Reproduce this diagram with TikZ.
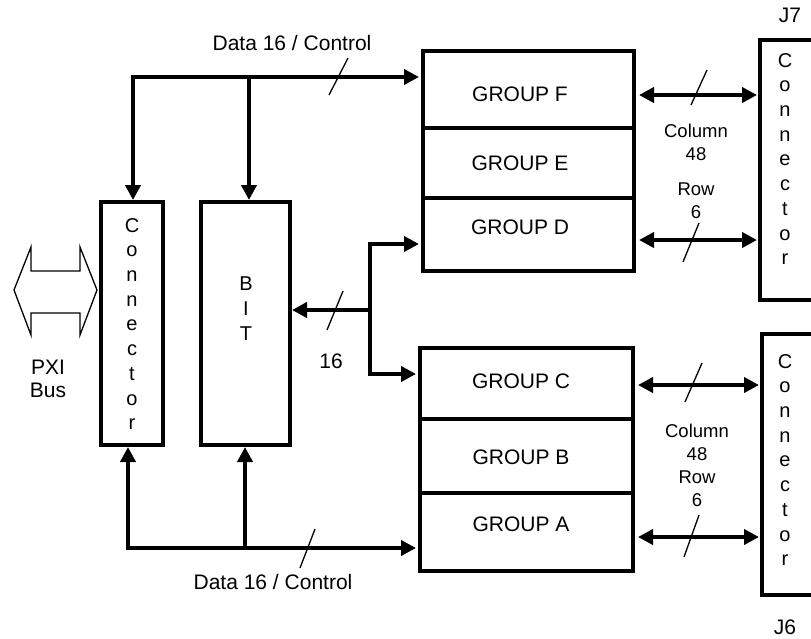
\documentclass[tikz,border=0pt]{standalone}
\usepackage{fontspec}
\setmainfont{Liberation Sans}
\usetikzlibrary{arrows.meta}
\newcommand{\connword}{C\\o\\n\\n\\e\\c\\t\\o\\r}

\begin{document}
\begin{tikzpicture}[x=1pt,y=-1pt,
  box/.style={draw, line width=4pt, inner sep=0pt},
  bus/.style={line width=4pt, line join=miter, >={Triangle[length=15pt,width=15pt]}},
  tick/.style={line width=1.3pt},
  txt/.style={font=\fontsize{21}{23}\selectfont, align=center, inner sep=0pt},
  small/.style={font=\fontsize{18.5}{23}\selectfont, align=center, inner sep=0pt},
  letters/.style={font=\fontsize{20}{24.7}\selectfont, align=center, inner sep=0pt}]
  \useasboundingbox (0,0) rectangle (811,638);

  \node[box, minimum width=62pt, minimum height=243pt] (connL) at (132,323.5) {};
  \node[letters] (connLtxt) at (132,324) {\connword};
  \node[box, minimum width=89pt, minimum height=243pt] (bit) at (245.5,323.5) {};
  \node[letters] (bittxt) at (246,308.5) {B\\I\\T};

  \node[box, minimum width=211pt, minimum height=77pt] (grpF) at (528.5,89.5) {};
  \node[box, minimum width=211pt, minimum height=70pt] (grpE) at (528.5,163) {};
  \node[box, minimum width=211pt, minimum height=73pt] (grpD) at (528.5,234.5) {};
  \node[box, minimum width=213pt, minimum height=71pt] (grpC) at (526.5,383.5) {};
  \node[box, minimum width=213pt, minimum height=74pt] (grpB) at (526.5,456) {};
  \node[box, minimum width=213pt, minimum height=78pt] (grpA) at (526.5,532) {};
  \node[txt] (lblF) at (520,94) {GROUP F};
  \node[txt] (lblE) at (520,163) {GROUP E};
  \node[txt] (lblD) at (520,227) {GROUP D};
  \node[txt] (lblC) at (521,381) {GROUP C};
  \node[txt] (lblB) at (521,457) {GROUP B};
  \node[txt] (lblA) at (521,524) {GROUP A};

  \node[box, minimum width=53pt, minimum height=260pt] (connJ7) at (786.5,170) {};
  \node[letters] (connJ7txt) at (785,159) {\connword};
  \node[box, minimum width=51pt, minimum height=261pt] (connJ6) at (787.5,464.5) {};
  \node[letters] (connJ6txt) at (785,460) {\connword};

  \draw[line width=1.3pt, fill=white] (14,290) -- (31,247) -- (31,271) -- (80,271) -- (80,247)
    -- (97,290) -- (80,335) -- (80,313) -- (31,313) -- (31,335) -- cycle;
  \node[txt] (pxi) at (48,378.5) {PXI\\Bus};

  \coordinate (tl) at (133,77);
  \coordinate (tb) at (249,77);
  \draw[bus,<->,shorten >=2pt] (tl |- connL.north) -- (tl) -- (tl -| grpF.west);
  \draw[bus,->] (tb) -- (tb |- bit.north);

  \coordinate (bl) at (128,548);
  \coordinate (bb) at (245,548);
  \draw[bus,<->,shorten >=2pt] (bl |- connL.south) -- (bl) -- (bl -| grpA.west);
  \draw[bus,->] (bb) -- (bb |- bit.south);

  \coordinate (bt) at (370,244);
  \coordinate (bm) at (370,310);
  \coordinate (bd) at (370,374);
  \draw[bus,<->,shorten <=2pt,shorten >=2pt] (bt -| grpD.west) -- (bt) -- (bd) -- (bd -| grpC.west);
  \draw[bus,->] (bm) -- (bm -| bit.east);

  \foreach \g/\c/\y in {grpF/connJ7/95, grpD/connJ7/240, grpC/connJ6/385, grpA/connJ6/537}
    \draw[bus,<->,shorten <=3pt,shorten >=1pt] (\g.east |- 0,\y) -- (\c.west |- 0,\y);

  \foreach \xa/\ya/\xb/\yb in {329/95/348/58, 300/568/315/529, 327/330/343/291,
      691/105/707/70, 683/262/699/223, 685/402/702/363, 684/557/699/515}
    \draw[tick] (\xa,\ya) -- (\xb,\yb);

  \node[txt] (dataT) at (292,43) {Data 16 / Control};
  \node[txt] (dataB) at (273,582) {Data 16 / Control};
  \node[txt] (w16) at (331,361) {16};
  \node[small] (colT) at (696,171.5) {Column\\48\\[12pt]Row\\6};
  \node[small] (colB) at (697,465) {Column\\48\\Row\\6};
  \node[txt] (j7) at (790,15.5) {J7};
  \node[txt] (j6) at (785,627) {J6};
\end{tikzpicture}
\end{document}
